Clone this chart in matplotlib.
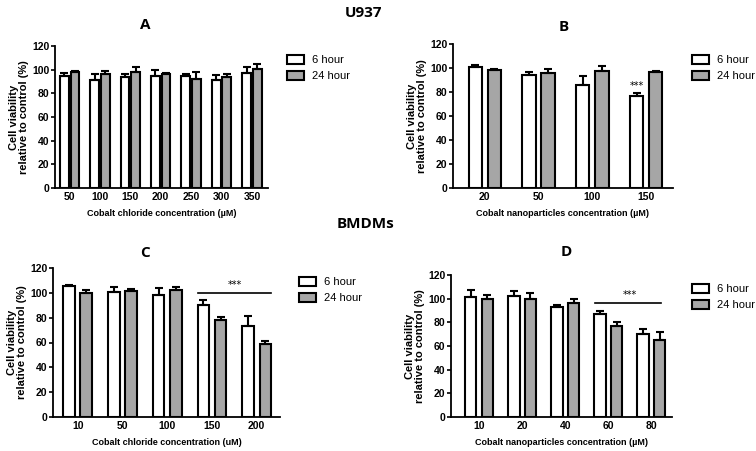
import matplotlib
matplotlib.use("Agg")
import matplotlib.pyplot as plt
import numpy as np
from matplotlib.patches import Patch
from matplotlib.font_manager import FontProperties

# ---- data ----
a_cats = ["50", "100", "150", "200", "250", "300", "350"]
a_6h = [95, 91, 94, 95, 94.5, 91.5, 97]
a_6h_err = [2, 5, 2, 5, 1.5, 4, 5]
a_24h = [98, 96, 98, 96.5, 92, 94, 100.5]
a_24h_err = [1, 3, 4, 1, 6, 2, 4.5]

b_cats = ["20", "50", "100", "150"]
b_6h = [100.5, 94, 86, 76.5]
b_6h_err = [2, 3, 7, 3]
b_24h = [98, 96, 97.5, 96.5]
b_24h_err = [1, 3, 4, 1]

c_cats = ["10", "50", "100", "150", "200"]
c_6h = [105.5, 100.5, 98, 90.5, 73.5]
c_6h_err = [1, 4.5, 5.5, 3.5, 7.5]
c_24h = [99.5, 101.5, 102, 78, 59]
c_24h_err = [3, 1.5, 2.5, 2.5, 2.5]

d_cats = ["10", "20", "40", "60", "80"]
d_6h = [101.5, 102.5, 93, 87, 70.5]
d_6h_err = [5.5, 4, 1.5, 2.5, 3.5]
d_24h = [100, 100, 96.5, 76.5, 65]
d_24h_err = [3, 5, 3.5, 3.5, 6.5]

GRAY = "#a6a6a6"
TICKFONT = dict(family="Liberation Sans", weight="bold", size=7.5)

fig = plt.figure(figsize=(7.56, 4.51), dpi=100)

def panel(rect, cats, v6, e6, v24, e24, width, half, xlim, letter, letter_xy, xlabel, legend_xy):
    ax = fig.add_axes(rect)
    x = np.arange(len(cats))
    z = np.zeros(len(cats))
    ekw = dict(ecolor="black", elinewidth=1.5, capsize=3, capthick=1.5)
    ax.bar(x - half, v6, width, color="white", edgecolor="black", linewidth=1.5,
           yerr=[z, e6], error_kw=ekw, zorder=3)
    ax.bar(x + half, v24, width, color=GRAY, edgecolor="black", linewidth=1.5,
           yerr=[z, e24], error_kw=ekw, zorder=3)
    ax.set_ylim(0, 120)
    ax.set_yticks([0, 20, 40, 60, 80, 100, 120])
    ax.set_xlim(*xlim)
    ax.set_xticks(x)
    ax.set_xticklabels(cats)
    for sp in ["top", "right"]:
        ax.spines[sp].set_visible(False)
    for sp in ["left", "bottom"]:
        ax.spines[sp].set_linewidth(1.3)
    ax.tick_params(axis="y", direction="out", length=3, width=1.2, pad=1)
    ax.tick_params(axis="x", length=0, pad=3)
    for lab in ax.get_xticklabels() + ax.get_yticklabels():
        lab.set_fontproperties(FontProperties(**TICKFONT))
    ax.set_ylabel("Cell viability\nrelative to control (%)", family="Liberation Sans",
                  weight="bold", size=8, labelpad=2, linespacing=1.1)
    ax.set_xlabel(xlabel, family="Liberation Sans", weight="bold", size=6.5, labelpad=5)
    fig.text(letter_xy[0], letter_xy[1], letter, family="Open Sans", weight="bold",
             size=11, ha="center", va="center")
    handles = [Patch(facecolor="white", edgecolor="black", linewidth=1.5, label="6 hour"),
               Patch(facecolor=GRAY, edgecolor="black", linewidth=1.5, label="24 hour")]
    ax.legend(handles=handles, loc="upper left", bbox_to_anchor=legend_xy,
              bbox_transform=fig.transFigure, frameon=False,
              prop=dict(family="Liberation Sans", size=8), handlelength=1.6,
              handleheight=0.9, handletextpad=0.7, labelspacing=0.5, borderpad=0)
    return ax

axA = panel([55/756, 1-188/451, 213/756, 142/451], a_cats, a_6h, a_6h_err, a_24h, a_24h_err,
            0.29, 0.176, (-0.48, 6.53), "A", (145/756, 1-25/451),
            "Cobalt chloride concentration (\u00b5M)", (281/756, 1-49/451))
axB = panel([453/756, 1-188/451, 220/756, 144/451], b_cats, b_6h, b_6h_err, b_24h, b_24h_err,
            0.248, 0.177, (-0.59, 3.5), "B", (564/756, 1-27/451),
            "Cobalt nanoparticles concentration (\u00b5M)", (686/756, 1-49/451))
axC = panel([53/756, 1-417/451, 227/756, 149/451], c_cats, c_6h, c_6h_err, c_24h, c_24h_err,
            0.257, 0.192, (-0.55, 4.52), "C", (145/756, 1-253/451),
            "Cobalt chloride concentration (uM)", (293/756, 1-271/451))
axD = panel([451/756, 1-417/451, 221/756, 142/451], d_cats, d_6h, d_6h_err, d_24h, d_24h_err,
            0.27, 0.194, (-0.65, 4.48), "D", (566/756, 1-252/451),
            "Cobalt nanoparticles concentration (\u00b5M)", (686/756, 1-278/451))

# significance marks
axB.text(3 - 0.177, 80.5, "***", ha="center", va="bottom", size=7, family="DejaVu Sans")
axC.plot([2.69, 4.33], [100, 100], color="black", lw=1.2)
axC.text(3.51, 102, "***", ha="center", va="bottom", size=7, family="DejaVu Sans")
axD.plot([2.69, 4.23], [96.6, 96.6], color="black", lw=1.2)
axD.text(3.5, 98.5, "***", ha="center", va="bottom", size=7, family="DejaVu Sans")

fig.text(364/756, 1-13/451, "U937", family="Open Sans", weight="bold", size=11,
         ha="center", va="center")
fig.text(365/756, 1-224/451, "BMDMs", family="Open Sans", weight="bold", size=11,
         ha="center", va="center")

fig.savefig("out.png", dpi=100)
